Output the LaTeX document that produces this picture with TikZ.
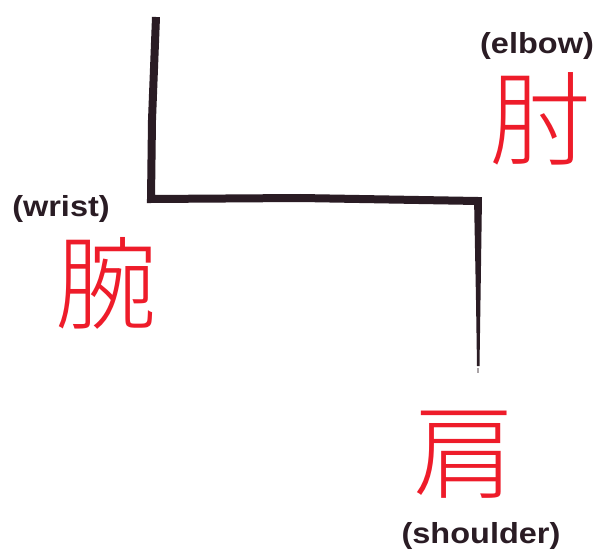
\documentclass[tikz,border=0pt]{standalone}
\usepackage{fontspec}
\setmainfont{Liberation Sans}
\newfontfamily\cjk{Noto Sans CJK JP}[UprightFont=* Light]
\definecolor{ink}{HTML}{2A1C24}
\definecolor{kred}{HTML}{EE1C2A}
\tikzset{
  kanji/.style={inner sep=0pt, text=kred, font=\cjk\fontsize{102}{102}\selectfont},
  gloss/.style={inner sep=0pt, text=ink, font=\bfseries\fontsize{29}{31}\selectfont},
  brush/.style={draw=ink, line width=8pt, line join=miter, line cap=butt}
}
\begin{document}
\begin{tikzpicture}[x=1pt,y=-1pt]
\useasboundingbox[fill=white] (0,0) rectangle (598,551);
\coordinate (top) at (156,17);
\coordinate (wristc) at (151,199);
\coordinate (elbowc) at (478,201);
\coordinate (endc) at (478,368);
\draw[brush] (top) -- (152,120) -- (wristc) -- (300,198) -- (elbowc);
\fill[ink] (474,197) -- (482,197) -- (480.5,300) -- (479.5,366) -- (477,366) -- (476,300) -- cycle;
\fill[ink!40] (477.4,368) rectangle (478.6,373);
\node[kanji] (wan) at (106,283) {腕};
\node[kanji] (chu) at (540,119) {肘};
\node[kanji] (ken) at (464,455) {肩};
\node[gloss] (wrist) at (61,209) {\scalebox{1.12}[1]{(wrist)}};
\node[gloss] (elbow) at (537,46) {\scalebox{1.12}[1]{(elbow)}};
\node[gloss] (shoulder) at (481,536) {\scalebox{1.12}[1]{(shoulder)}};
\end{tikzpicture}
\end{document}
